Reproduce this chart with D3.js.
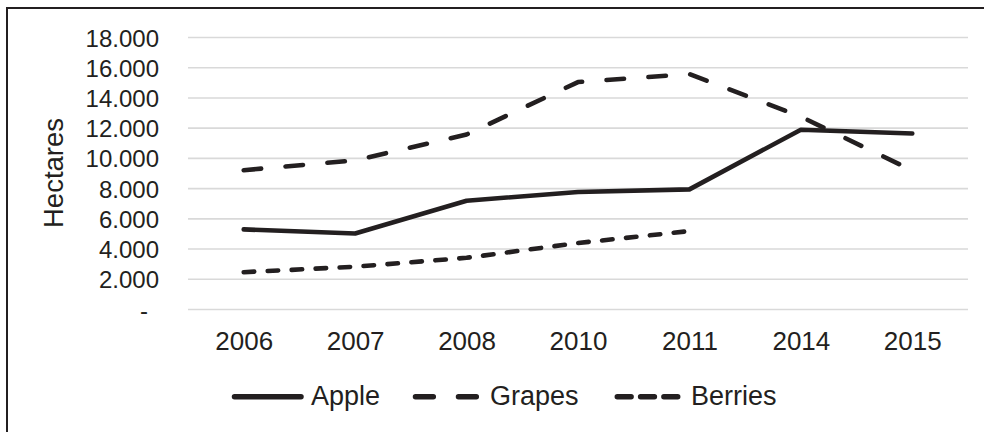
<!DOCTYPE html>
<html>
<head>
<meta charset="utf-8">
<script src="https://cdn.jsdelivr.net/npm/d3@7"></script>
<style>
  html, body { margin: 0; padding: 0; background: #fff; }
  svg { display: block; }
  text { font-family: "Liberation Sans", Arial, sans-serif; fill: #231f20; }
</style>
</head>
<body>
<div id="chart"></div>
<script>
// ---- data ----
const categories = ["2006", "2007", "2008", "2010", "2011", "2014", "2015"];
const apple   = [5300, 5030, 7200, 7780, 7950, 11900, 11650];
const grapes  = [9220, 9870, 11580, 15050, 15580, 12760, 9200];
const berries = [2470, 2830, 3420, 4400, 5190, null, null];
const yTicks  = [0, 2000, 4000, 6000, 8000, 10000, 12000, 14000, 16000, 18000];
const seriesNames = ["Apple", "Grapes", "Berries"];
const yTitle = "Hectares";

// ---- layout ----
const W = 984, H = 432;
const plot = { left: 188, right: 968, top: 37.5, bottom: 309.5 };
const ink = "#231f20";

const svg = d3.select("#chart").append("svg").attr("width", W).attr("height", H);

// outer frame (only top and left edges visible)
svg.append("rect").attr("x", 7).attr("y", 8).attr("width", W + 20).attr("height", H + 20)
  .attr("fill", "none").attr("stroke", ink).attr("stroke-width", 2);

const x = d3.scalePoint().domain(categories).range([plot.left, plot.right]).padding(0.5);
const y = d3.scaleLinear().domain([0, 18000]).range([plot.bottom, plot.top]);

// gridlines
svg.append("g").selectAll("line").data(yTicks).join("line")
  .attr("x1", plot.left).attr("x2", plot.right)
  .attr("y1", d => y(d)).attr("y2", d => y(d))
  .attr("stroke", "#d9d9d9").attr("stroke-width", 1.6);

// y axis labels
const loc = d3.formatLocale({ decimal: ",", thousands: ".", grouping: [3], currency: ["", ""] });
const fmt = loc.format(",");
const yAxis = svg.append("g").attr("transform", `translate(${plot.left},0)`)
  .call(d3.axisLeft(y).tickValues(yTicks).tickSize(0).tickPadding(29)
        .tickFormat(d => d === 0 ? "-" : fmt(d)));
yAxis.select(".domain").remove();
yAxis.selectAll("text")
  .attr("font-size", 24).attr("font-family", null).attr("fill", ink)
  .attr("dy", null).attr("y", 8.6)
  .attr("x", d => d === 0 ? -40 : -29);

// x axis labels
const xAxis = svg.append("g").attr("transform", `translate(0,${plot.bottom})`)
  .call(d3.axisBottom(x).tickSize(0));
xAxis.select(".domain").remove();
xAxis.selectAll("text")
  .attr("font-size", 26).attr("font-family", null).attr("fill", ink)
  .attr("dy", null).attr("y", 40.5);

// y title
svg.append("text")
  .attr("transform", "translate(53.5,173) rotate(-90)")
  .attr("text-anchor", "middle").attr("dy", "0.35em")
  .attr("font-size", 27.5).text(yTitle);

// series lines
const series = [
  { name: seriesNames[0], values: apple,   dash: null },
  { name: seriesNames[1], values: grapes,  dash: "17.5,24.5" },
  { name: seriesNames[2], values: berries, dash: "10.5,13.5" }
];
const line = d3.line()
  .defined(d => d.v != null)
  .x(d => x(d.c)).y(d => y(d.v));

svg.append("g").selectAll("path").data(series).join("path")
  .attr("d", s => line(s.values.map((v, i) => ({ c: categories[i], v }))))
  .attr("fill", "none").attr("stroke", ink).attr("stroke-width", 4.6)
  .attr("stroke-linecap", "round").attr("stroke-linejoin", "round")
  .attr("stroke-dasharray", s => s.dash);

// legend
const legendY = 396.8;
const legendItems = [
  { name: seriesNames[0], x1: 234.5, x2: 301, dash: null, tx: 311 },
  { name: seriesNames[1], x1: 415.5, x2: 476.3, dash: "17.8,25.2", tx: 490 },
  { name: seriesNames[2], x1: 617.3, x2: 677.7, dash: "13.8,9.5", tx: 691 }
];
const lg = svg.append("g");
lg.selectAll("line").data(legendItems).join("line")
  .attr("x1", d => d.x1).attr("x2", d => d.x2)
  .attr("y1", legendY).attr("y2", legendY)
  .attr("stroke", ink).attr("stroke-width", 5.5)
  .attr("stroke-linecap", "round")
  .attr("stroke-dasharray", d => d.dash);
lg.selectAll("text").data(legendItems).join("text")
  .attr("x", d => d.tx).attr("y", 405)
  .attr("font-size", 27).text(d => d.name);
</script>
</body>
</html>
